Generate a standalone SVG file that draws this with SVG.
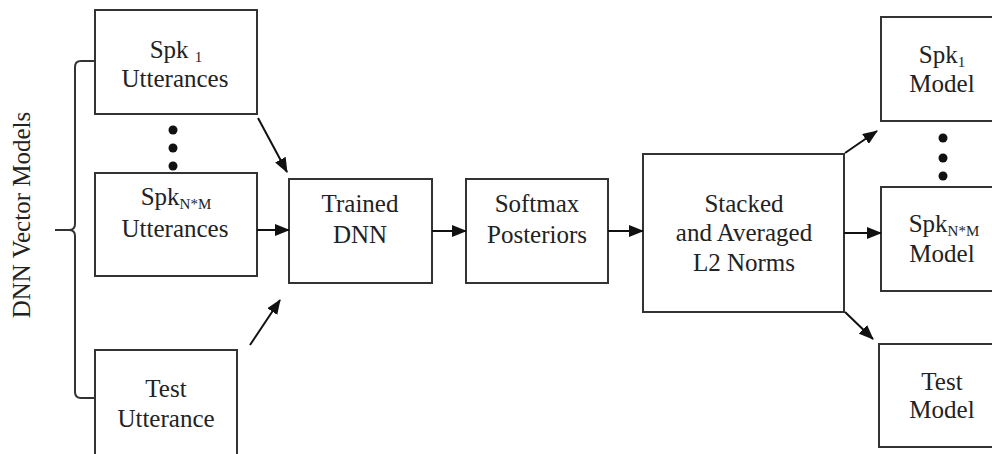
<svg xmlns="http://www.w3.org/2000/svg" width="992" height="454" viewBox="0 0 992 454">
<defs>
<marker id="ah" markerWidth="15" markerHeight="12" refX="14" refY="6" orient="auto" markerUnits="userSpaceOnUse">
<path d="M0,0 L15,6 L0,12 Z" fill="#111"/>
</marker>
<style>
.box{fill:#fff;stroke:#333;stroke-width:2}
.t{font-family:"Liberation Serif","Times New Roman",serif;font-size:25px;fill:#222;text-anchor:middle}
.sub{font-size:15px}
.c{stroke:#111;stroke-width:2;fill:none;marker-end:url(#ah)}
.dot{fill:#111}
</style>
</defs>
<rect width="992" height="454" fill="#fff"/>
<g id="label">
<text class="t" transform="translate(30,215) rotate(-90)">DNN Vector Models</text>
<path d="M95,61 H81 Q75,61 75,67 V224 Q75,230 69,230 H55 M69,230 Q75,230 75,236 V392 Q75,398 81,398 H95" fill="none" stroke="#333" stroke-width="2"/>
</g>
<g id="spk1-utt">
<rect class="box" x="95" y="10" width="162" height="104"/>
<text class="t" x="176" y="58">Spk <tspan class="sub" dy="4">1</tspan></text>
<text class="t" x="175" y="87">Utterances</text>
</g>
<g id="dots-left">
<circle class="dot" cx="173" cy="130" r="4.5"/>
<circle class="dot" cx="173" cy="148" r="4.5"/>
<circle class="dot" cx="173" cy="166" r="4.5"/>
</g>
<g id="spknm-utt">
<rect class="box" x="95" y="173" width="162" height="103"/>
<text class="t" x="176" y="205">Spk<tspan class="sub" dy="4">N*M</tspan></text>
<text class="t" x="175" y="237">Utterances</text>
</g>
<g id="test-utt">
<rect class="box" x="95" y="350" width="142" height="110"/>
<text class="t" x="166" y="397">Test</text>
<text class="t" x="166" y="427">Utterance</text>
</g>
<g id="dnn">
<rect class="box" x="289" y="179" width="143" height="104"/>
<text class="t" x="360" y="212">Trained</text>
<text class="t" x="360" y="243">DNN</text>
</g>
<g id="softmax">
<rect class="box" x="466" y="179" width="142" height="104"/>
<text class="t" x="537" y="212">Softmax</text>
<text class="t" x="537" y="243">Posteriors</text>
</g>
<g id="stacked">
<rect class="box" x="643" y="154" width="201" height="158"/>
<text class="t" x="744" y="212">Stacked</text>
<text class="t" x="744" y="241">and Averaged</text>
<text class="t" x="744" y="271">L2 Norms</text>
</g>
<g id="spk1-model">
<rect class="box" x="881" y="17" width="125" height="104"/>
<text class="t" x="942" y="63">Spk<tspan class="sub" dy="4">1</tspan></text>
<text class="t" x="942" y="92">Model</text>
</g>
<g id="dots-right">
<circle class="dot" cx="943" cy="138" r="4.5"/>
<circle class="dot" cx="943" cy="158" r="4.5"/>
<circle class="dot" cx="943" cy="176" r="4.5"/>
</g>
<g id="spknm-model">
<rect class="box" x="881" y="187" width="125" height="104"/>
<text class="t" x="944" y="232">Spk<tspan class="sub" dy="4">N*M</tspan></text>
<text class="t" x="942" y="262">Model</text>
</g>
<g id="test-model">
<rect class="box" x="879" y="344" width="127" height="103"/>
<text class="t" x="942" y="390">Test</text>
<text class="t" x="942" y="418">Model</text>
</g>
<g id="connectors">
<line class="c" x1="258" y1="118" x2="287" y2="172"/>
<line class="c" x1="257" y1="230" x2="289" y2="230"/>
<line class="c" x1="250" y1="345" x2="280" y2="300"/>
<line class="c" x1="432" y1="231" x2="466" y2="231"/>
<line class="c" x1="608" y1="231" x2="643" y2="231"/>
<line class="c" x1="845" y1="153" x2="877" y2="131"/>
<line class="c" x1="844" y1="233" x2="881" y2="233"/>
<line class="c" x1="845" y1="312" x2="873" y2="339"/>
</g>
</svg>
